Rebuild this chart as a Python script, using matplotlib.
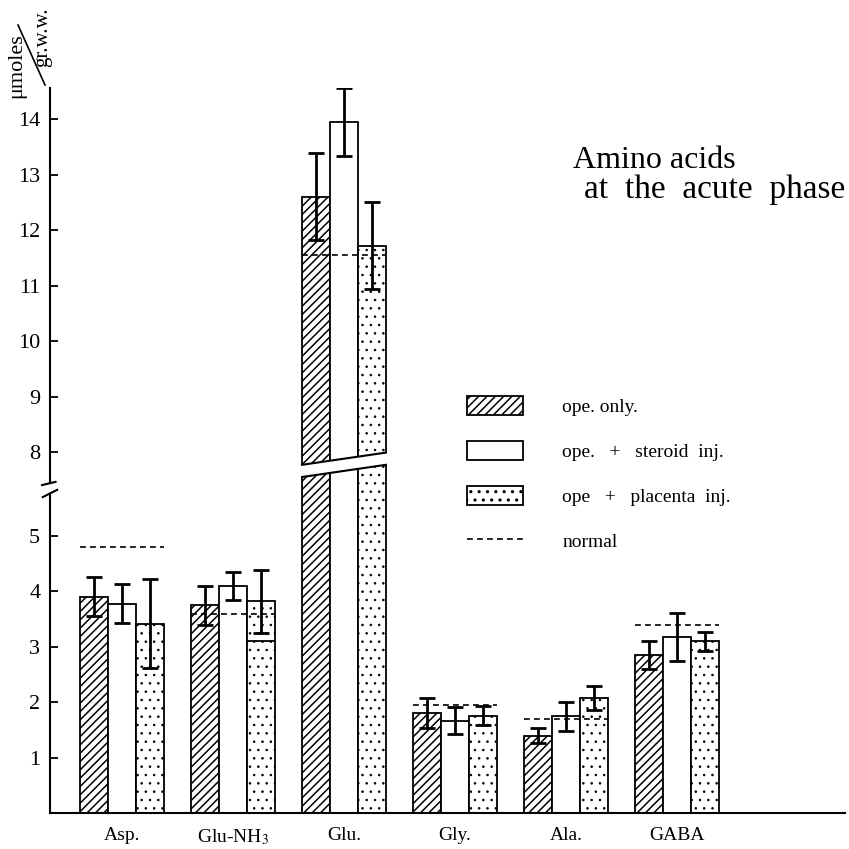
import numpy as np
import matplotlib
matplotlib.use('Agg')
from matplotlib import pyplot as plt
from matplotlib.lines import Line2D
from matplotlib.patches import Polygon

plt.rcParams['font.family'] = 'Liberation Serif'
plt.rcParams['mathtext.fontset'] = 'stix'
plt.rcParams['hatch.linewidth'] = 1.1

## data (umoles / gr. wet weight)
acids = ['Asp.', 'Glu-NH$_3$', 'Glu.', 'Gly.', 'Ala.', 'GABA']
ope_only = [3.9, 3.75, 12.6, 1.8, 1.4, 2.85]
ope_only_err = [0.35, 0.35, 0.78, 0.27, 0.13, 0.25]
steroid = [3.78, 4.1, 13.95, 1.67, 1.75, 3.18]
steroid_err = [0.35, 0.25, 0.61, 0.25, 0.26, 0.43]
placenta = [3.42, 3.82, 11.72, 1.76, 2.08, 3.1]
placenta_err = [0.8, 0.57, 0.78, 0.17, 0.21, 0.17]
normal = [4.8, 3.6, 11.55, 1.95, 1.7, 3.4]
# old bar top left inside the placenta bar of Glu-NH3
inner_idx = [1]
inner_val = [3.1]

yticks = [1, 2, 3, 4, 5, 8, 9, 10, 11, 12, 13, 14]

## broken axis: 5.75 .. 7.46 squeezed into a small gap
low_top, high_bottom, gap = 5.75, 7.46, 0.22


def fwd(v):
    v = np.asarray(v, dtype=float)
    return np.where(v <= low_top, v,
                    np.where(v >= high_bottom, v - high_bottom + low_top + gap,
                             low_top + (v - low_top) * gap / (high_bottom - low_top)))


def inv(f):
    f = np.asarray(f, dtype=float)
    return np.where(f <= low_top, f,
                    np.where(f >= low_top + gap, f - low_top - gap + high_bottom,
                             low_top + (f - low_top) * (high_bottom - low_top) / gap))


fig = plt.figure(figsize=(8.49, 8.49), dpi=100)
ax = fig.add_axes([50 / 849, 35.7 / 849, 795 / 849, 725.3 / 849])
ax.set_yscale('function', functions=(fwd, inv))

x = np.arange(len(acids))
w = 0.252
ekw = dict(elinewidth=2.0, capsize=6, capthick=2.0, ecolor='black', zorder=5)

b1 = ax.bar(x - w, ope_only, w, yerr=ope_only_err, facecolor='white', edgecolor='black',
            hatch='////', lw=1.3, error_kw=ekw, label='ope. only.')
b2 = ax.bar(x, steroid, w, yerr=steroid_err, facecolor='white', edgecolor='black',
            lw=1.3, error_kw=ekw, label='ope. + steroid inj.')
with plt.rc_context({'hatch.linewidth': 0.6}):
    b3 = ax.bar(x + w, placenta, w, yerr=placenta_err, facecolor='white', edgecolor='black',
                hatch='..', lw=1.3, error_kw=ekw, label='ope + placenta inj.')

ax.hlines(normal, x - 1.5 * w, x + 1.5 * w, colors='black', lw=1.2,
          linestyles=(0, (3.5, 2.5)), zorder=4)
for i, v in zip(inner_idx, inner_val):
    ax.hlines(v, i + 0.5 * w, i + 1.5 * w, colors='black', lw=1.3, zorder=4)

# slanted break across the tall Glu bars
gx0, gx1 = 2 - 1.5 * w, 2 + 1.5 * w
band = Polygon([(gx0 - 0.02, 7.55), (gx1 + 0.02, 7.77), (gx1 + 0.02, 7.99), (gx0 - 0.02, 7.77)],
               closed=True, facecolor='white', edgecolor='none', zorder=6)
ax.add_patch(band)
ax.plot([gx0, gx1], [7.55, 7.77], color='black', lw=1.5, zorder=7)
ax.plot([gx0, gx1], [7.77, 7.99], color='black', lw=1.5, zorder=7)

ax.set_xlim(-0.649, 6.514)
ax.set_ylim(0, 14.56)

for s in ['left', 'top', 'right']:
    ax.spines[s].set_visible(False)
ax.spines['bottom'].set_linewidth(1.5)

# left axis drawn in two pieces
yt = ax.get_yaxis_transform()
ax.plot([0, 0], [0, low_top], transform=yt, color='black', lw=1.5, clip_on=False)
ax.plot([0, 0], [high_bottom, 14.56], transform=yt, color='black', lw=1.5, clip_on=False)
ax.plot([-0.009, 0.009], [0.436, 0.446], transform=ax.transAxes, color='black', lw=1.5, clip_on=False)
ax.plot([-0.010, 0.007], [0.4525, 0.457], transform=ax.transAxes, color='black', lw=1.5, clip_on=False)

ax.set_yticks(yticks)
ax.set_yticklabels([str(t) for t in yticks])
ax.yaxis.set_minor_locator(matplotlib.ticker.NullLocator())
ax.tick_params(axis='y', direction='in', length=6, width=1.3, labelsize=16, pad=7)
ax.set_xticks(x)
ax.set_xticklabels(acids)
ax.tick_params(axis='x', length=0, labelsize=14, pad=10)

handles = [b1, b2, b3, Line2D([], [], color='black', lw=1.2, linestyle=(0, (3.5, 2.5)))]
labels = ['ope. only.', 'ope.   +   steroid  inj.', 'ope   +   placenta  inj.', 'normal']
ax.legend(handles, labels, loc='upper left', bbox_to_anchor=(467 / 849, 1 - 396 / 849),
          bbox_transform=fig.transFigure, frameon=False, fontsize=14,
          handlelength=2.9, handleheight=1.15, labelspacing=1.27, handletextpad=2.0,
          borderpad=0, borderaxespad=0)

fig.text(573 / 849, 1 - 168 / 849, 'Amino acids', fontsize=23, va='baseline')
fig.text(584 / 849, 1 - 198 / 849, 'at  the  acute  phase', fontsize=24, va='baseline')

# unit label written as a slanted fraction
fig.text(17 / 849, 1 - 66 / 849, 'μmoles', rotation=90, fontsize=16, ha='center', va='center')
fig.text(43 / 849, 1 - 37 / 849, 'gr.w.w.', rotation=90, fontsize=15, ha='center', va='center')
fig.add_artist(Line2D([18 / 849, 45 / 849], [1 - 25 / 849, 1 - 85 / 849], color='black', lw=1.2))

fig.savefig('out.png', dpi=100)
